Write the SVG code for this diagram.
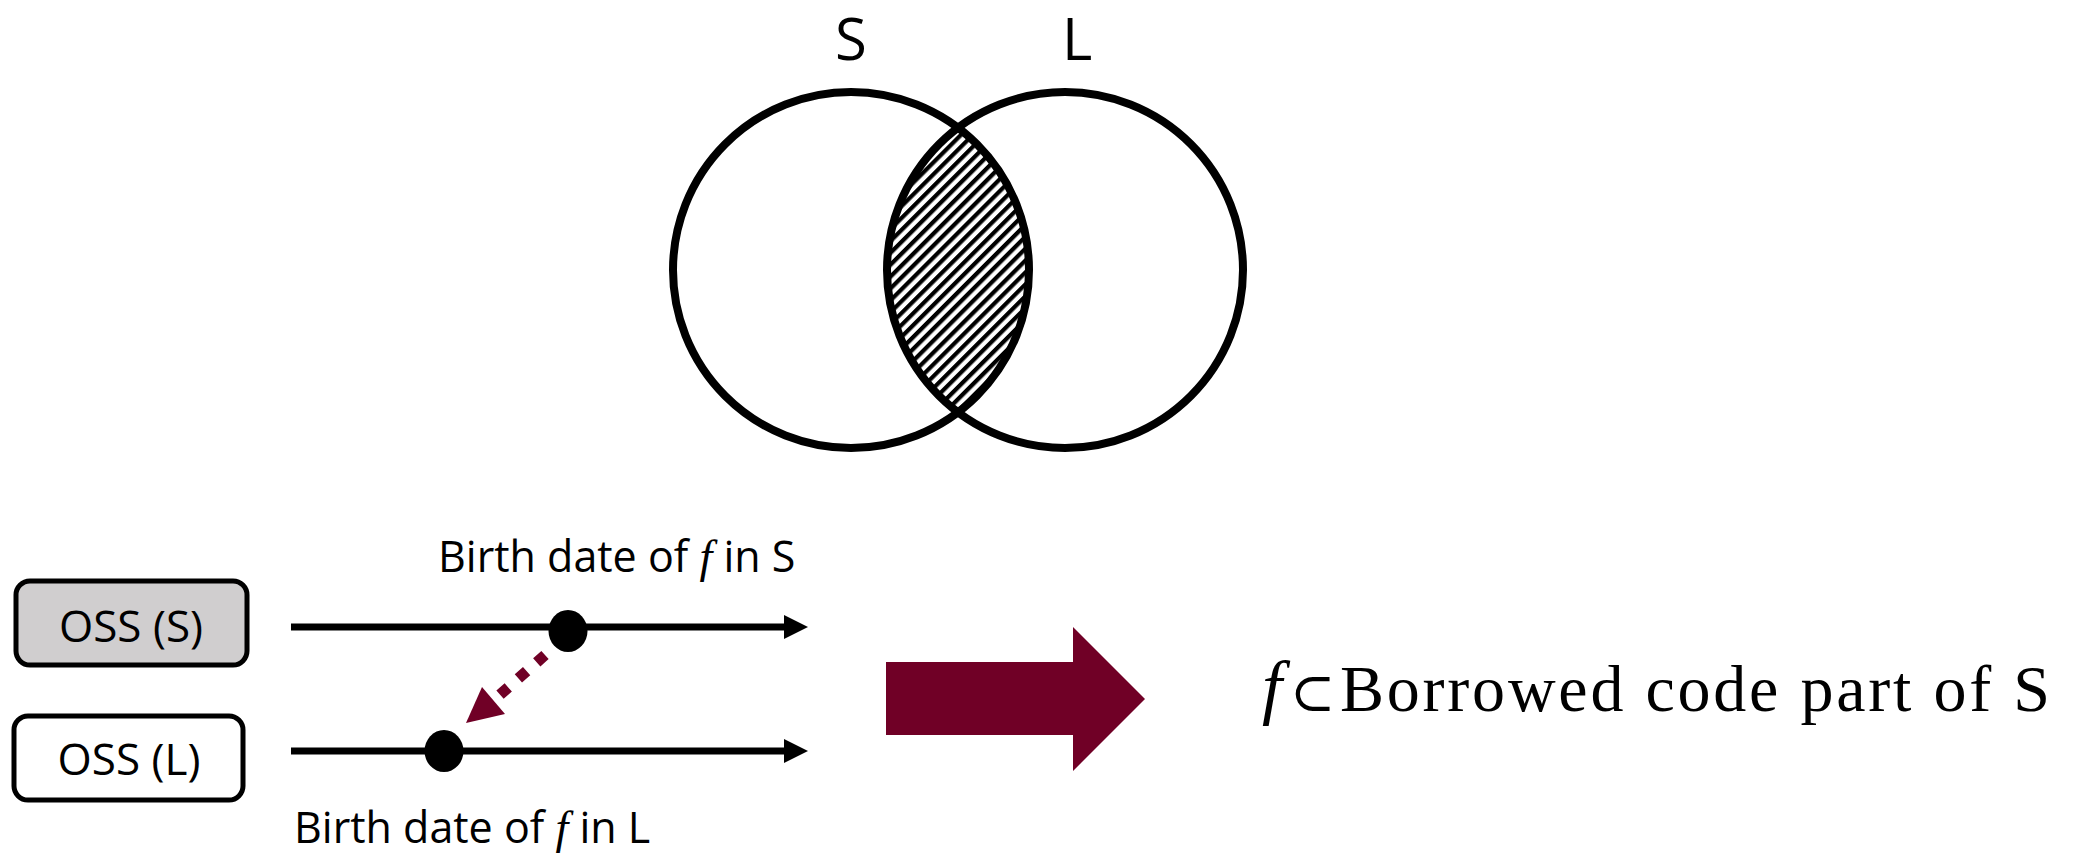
<svg xmlns="http://www.w3.org/2000/svg" width="2077" height="856" viewBox="0 0 2077 856">
<style>
.lbl{font-family:"Open Sans","Liberation Sans",sans-serif;fill:#000}
.serif{font-family:"Liberation Serif","DejaVu Serif",serif;fill:#000}
.circ{fill:none;stroke:#000;stroke-width:8}
.box{stroke:#000;stroke-width:5}
.tl{stroke:#000;stroke-width:7;fill:none}
.maroon{fill:#700026}
</style>
<defs>
<pattern id="hatch" patternUnits="userSpaceOnUse" width="8.4" height="8.4" patternTransform="rotate(-45)">
<rect x="0" y="0" width="8.4" height="4.2" fill="#000"/>
</pattern>
<clipPath id="clipL"><circle cx="851" cy="270" r="178"/></clipPath>
</defs>
<rect width="2077" height="856" fill="#fff"/>
<g id="venn">
<circle cx="1065" cy="270" r="178" fill="url(#hatch)" clip-path="url(#clipL)"/>
<circle class="circ" cx="851" cy="270" r="178"/>
<circle class="circ" cx="1065" cy="270" r="178"/>
<text class="lbl" x="851" y="60" font-size="58" text-anchor="middle">S</text>
<text class="lbl" x="1062" y="60" font-size="58">L</text>
</g>
<g id="oss-s">
<rect class="box" x="16" y="581" width="231" height="84" rx="14" fill="#D0CECF"/>
<text class="lbl" x="131" y="642" font-size="44" text-anchor="middle">OSS (S)</text>
</g>
<g id="oss-l">
<rect class="box" x="14" y="716" width="229" height="84" rx="14" fill="#fff"/>
<text class="lbl" x="129" y="775" font-size="44" text-anchor="middle">OSS (L)</text>
</g>
<g id="timeline-s">
<line class="tl" x1="291" y1="627" x2="788" y2="627"/>
<polygon points="784,615 808,627 784,639" fill="#000"/>
<ellipse cx="568" cy="631" rx="19.5" ry="21" fill="#000"/>
<text class="lbl" x="438" y="572" font-size="43">Birth date of <tspan class="serif" font-style="italic" font-size="46">f</tspan> in S</text>
</g>
<g id="timeline-l">
<line class="tl" x1="291" y1="751" x2="788" y2="751"/>
<polygon points="784,739 808,751 784,763" fill="#000"/>
<ellipse cx="444" cy="751" rx="19.5" ry="21" fill="#000"/>
<text class="lbl" x="294" y="843" font-size="43">Birth date of <tspan class="serif" font-style="italic" font-size="46">f</tspan> in L</text>
</g>
<g id="connectors">
<line x1="545" y1="655" x2="494" y2="700" stroke="#700026" stroke-width="11" stroke-dasharray="11 13.5"/>
<polygon class="maroon" points="466,723 482,687 505,714"/>
<polygon class="maroon" points="886,662 1073,662 1073,627 1145,699 1073,771 1073,735 886,735"/>
</g>
<g id="result">
<text class="serif" x="1262" y="711" font-size="72" font-style="italic">f</text>
<text class="serif" x="1290" y="711" font-size="54">⊂</text>
<text class="serif" x="1340" y="711" font-size="66" textLength="710" lengthAdjust="spacing">Borrowed code part of S</text>
</g>
</svg>
